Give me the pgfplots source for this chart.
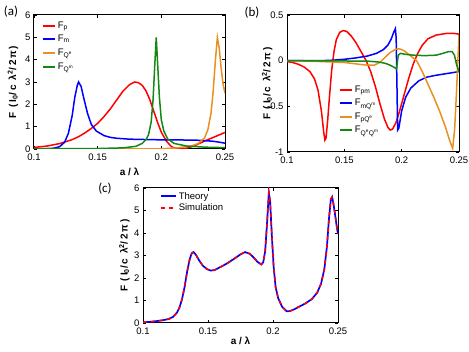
\documentclass[border=0pt]{standalone}
\usepackage{fontspec}
\setmainfont{Liberation Sans}
\newfontfamily\labfont[LetterSpace=18]{Liberation Sans}
\newfontfamily\panelfont{Carlito}
\usepackage{pgfplots}
\usepackage{pgfplotstable}
\pgfplotsset{compat=1.18}

\definecolor{mred}{RGB}{255,0,0}
\definecolor{mblue}{RGB}{0,0,255}
\definecolor{morange}{RGB}{232,145,32}
\definecolor{mgreen}{RGB}{20,135,20}

\newcommand{\Flab}{{\labfont\bfseries F (I\textsubscript{0}/c λ\textsuperscript{2}/2π)}}
\newcommand{\Xlab}{{\bfseries a / λ}}

\pgfplotsset{
  panel/.style={
    scale only axis,
    xmin=0.1, xmax=0.25,
    xtick={0.1,0.15,0.2,0.25},
    xticklabels={0.1,0.15,0.2,0.25},
    tick align=inside,
    major tick length=3pt,
    every tick/.style={black, line width=0.7pt},
    axis line style={black, line width=1pt},
    tick label style={font=\fontsize{9.5}{10}\selectfont},
    xticklabel style={yshift=-1pt},
    label style={font=\fontsize{10}{12}\selectfont},
    legend style={draw=none, fill=none, inner sep=0pt,
      font=\fontsize{9.5}{10}\selectfont, anchor=north west},
    legend cell align=left,
    every axis plot/.append style={line width=1.5pt},
  }
}

% panel (c): total force, theory and simulation
\pgfplotstableread{
x y
0.1 0.03
0.105 0.05
0.11 0.08
0.115 0.12
0.12 0.18
0.123 0.27
0.126 0.45
0.128 0.68
0.13 1.05
0.132 1.6
0.134 2.3
0.136 2.85
0.1375 3.1
0.1388 3.15
0.1405 3.05
0.143 2.8
0.146 2.55
0.149 2.4
0.152 2.33
0.155 2.35
0.16 2.5
0.165 2.66
0.17 2.85
0.175 3.05
0.1785 3.15
0.182 3.08
0.185 2.92
0.188 2.72
0.191 2.6
0.1925 2.7
0.194 3.2
0.1955 4.5
0.1968 5.8
0.1978 5.4
0.199 4.0
0.2005 2.5
0.202 1.6
0.204 1.1
0.207 0.72
0.2105 0.52
0.213 0.53
0.216 0.6
0.22 0.72
0.225 0.87
0.23 1.07
0.234 1.35
0.237 1.75
0.2395 2.4
0.2415 3.4
0.243 4.6
0.2445 5.5
0.2455 5.6
0.2465 5.3
0.2478 4.8
0.249 4.3
0.25 3.95
}\tabC

\begin{document}
\begin{tikzpicture}[x=1pt,y=1pt]
\useasboundingbox (0,0) rectangle (469,352);

% ---------------- (a)
\begin{axis}[panel,
  at={(34pt,203pt)}, anchor=south west,
  width=191pt, height=134pt,
  ymin=0, ymax=6, ytick={0,1,2,3,4,5,6},
  yticklabels={0,1,2,3,4,5,6},
  xlabel={\Xlab}, ylabel={\Flab},
  xlabel style={at={(axis description cs:0.5,-0.17)}, anchor=center},
  ylabel style={at={(axis description cs:-0.11,0.5)}, anchor=center},
  legend style={at={(axis description cs:0.04,0.965)}, row sep=1.5pt},
  legend image code/.code={\draw[#1, line width=2pt] (0pt,0pt) -- (12pt,0pt);},
]
\addplot[mred] coordinates {
 (0.1,0.07)(0.11,0.13)(0.12,0.24)(0.13,0.42)(0.135,0.55)(0.14,0.72)(0.145,0.92)
 (0.15,1.15)(0.155,1.45)(0.16,1.8)(0.165,2.2)(0.17,2.6)(0.175,2.88)(0.179,3.0)
 (0.182,2.97)(0.185,2.85)(0.188,2.6)(0.191,2.2)(0.194,1.7)(0.197,1.2)(0.2,0.75)
 (0.204,0.35)(0.208,0.1)(0.212,0.01)(0.215,0.0)(0.22,0.04)(0.225,0.12)(0.23,0.25)
 (0.235,0.38)(0.24,0.5)(0.245,0.62)(0.25,0.74)};
\addlegendentry{F\textsubscript{p}}
\addplot[mblue] coordinates {
 (0.1,0.0)(0.11,0.01)(0.115,0.03)(0.12,0.1)(0.124,0.3)(0.127,0.7)(0.13,1.5)
 (0.132,2.3)(0.134,2.85)(0.135,3.0)(0.137,2.8)(0.139,2.3)(0.142,1.6)(0.145,1.1)
 (0.149,0.8)(0.155,0.6)(0.16,0.52)(0.165,0.48)(0.175,0.44)(0.19,0.42)(0.2,0.41)
 (0.21,0.41)(0.22,0.40)(0.23,0.39)(0.24,0.35)(0.245,0.31)(0.25,0.26)};
\addlegendentry{F\textsubscript{m}}
\addplot[morange] coordinates {
 (0.1,0.0)(0.2,0.01)(0.21,0.04)(0.214,0.06)(0.224,0.14)(0.229,0.25)(0.234,0.5)
 (0.2365,0.85)(0.239,1.6)(0.2406,2.5)(0.2425,4.0)(0.244,5.0)(0.2455,4.5)
 (0.247,3.6)(0.2485,2.9)(0.25,2.5)};
\addlegendentry{F\textsubscript{Q\textsuperscript{e}}}
\addplot[mgreen] coordinates {
 (0.1,0.01)(0.15,0.02)(0.17,0.05)(0.18,0.12)(0.185,0.25)(0.188,0.42)(0.19,0.65)
 (0.192,1.2)(0.1935,2.2)(0.1948,3.7)(0.196,5.0)(0.1972,3.7)(0.1985,2.3)(0.2,1.3)
 (0.202,0.8)(0.205,0.45)(0.21,0.25)(0.22,0.13)(0.235,0.08)(0.25,0.06)};
\addlegendentry{F\textsubscript{Q\textsuperscript{m}}}
\end{axis}

% ---------------- (b)
\begin{axis}[panel,
  at={(287pt,200pt)}, anchor=south west,
  width=172pt, height=137pt,
  ymin=-1, ymax=0.5, ytick={-1,-0.5,0,0.5},
  yticklabels={-1,-0.5,0,0.5},
  ylabel={\Flab},
  ylabel style={at={(axis description cs:-0.115,0.5)}, anchor=center},
  legend style={at={(axis description cs:0.3,0.5)}, row sep=1.5pt},
  legend image code/.code={\draw[#1, line width=2pt] (0pt,0pt) -- (12pt,0pt);},
]
\addplot[mred] coordinates {
 (0.1,-0.01)(0.105,-0.02)(0.11,-0.04)(0.115,-0.07)(0.12,-0.12)(0.124,-0.2)
 (0.127,-0.32)(0.13,-0.55)(0.132,-0.78)(0.133,-0.87)(0.134,-0.85)(0.1355,-0.65)
 (0.137,-0.4)(0.139,-0.1)(0.141,0.1)(0.143,0.23)(0.146,0.31)(0.149,0.33)
 (0.152,0.32)(0.156,0.27)(0.16,0.2)(0.165,0.09)(0.169,0.0)(0.173,-0.12)
 (0.177,-0.28)(0.181,-0.47)(0.185,-0.64)(0.188,-0.73)(0.19,-0.76)(0.192,-0.75)
 (0.195,-0.68)(0.198,-0.56)(0.202,-0.38)(0.206,-0.2)(0.21,-0.04)(0.214,0.08)
 (0.218,0.17)(0.223,0.24)(0.23,0.28)(0.24,0.3)(0.245,0.3)(0.25,0.29)};
\addlegendentry{F\textsubscript{pm}}
\addplot[mblue] coordinates {
 (0.1,0.0)(0.13,0.0)(0.14,0.005)(0.15,0.015)(0.16,0.03)(0.17,0.05)(0.178,0.08)
 (0.184,0.12)(0.188,0.17)(0.191,0.24)(0.193,0.31)(0.1945,0.35)(0.1952,0.25)
 (0.1958,-0.2)(0.1965,-0.76)(0.1975,-0.74)(0.2,-0.55)(0.2035,-0.4)(0.208,-0.3)
 (0.215,-0.22)(0.222,-0.18)(0.23,-0.16)(0.24,-0.14)(0.25,-0.12)};
\addlegendentry{F\textsubscript{mQ\textsuperscript{m}}}
\addplot[morange] coordinates {
 (0.1,0.0)(0.13,-0.01)(0.15,-0.02)(0.16,-0.035)(0.17,-0.05)(0.176,-0.05)
 (0.181,-0.02)(0.185,0.03)(0.19,0.09)(0.195,0.125)(0.198,0.13)(0.202,0.11)
 (0.206,0.07)(0.21,0.03)(0.213,0.0)(0.218,-0.12)(0.223,-0.26)(0.228,-0.4)
 (0.233,-0.55)(0.238,-0.72)(0.242,-0.88)(0.2445,-0.96)(0.2462,-0.75)
 (0.2478,-0.35)(0.249,0.0)(0.25,0.28)};
\addlegendentry{F\textsubscript{pQ\textsuperscript{e}}}
\addplot[mgreen] coordinates {
 (0.1,0.0)(0.17,-0.005)(0.18,-0.015)(0.186,-0.03)(0.19,-0.05)(0.193,-0.07)
 (0.1955,-0.09)(0.1962,-0.02)(0.197,0.06)(0.199,0.08)(0.203,0.07)(0.21,0.06)
 (0.22,0.055)(0.23,0.06)(0.236,0.08)(0.241,0.1)(0.244,0.1)(0.246,0.06)
 (0.248,-0.05)(0.25,-0.12)};
\addlegendentry{F\textsubscript{Q\textsuperscript{e}Q\textsuperscript{m}}}
\end{axis}

% ---------------- (c)
\begin{axis}[panel,
  at={(143pt,29pt)}, anchor=south west,
  width=195pt, height=135pt,
  ymin=0, ymax=6, ytick={0,1,2,3,4,5,6},
  yticklabels={0,1,2,3,4,5,6},
  xlabel={\Xlab}, ylabel={\Flab},
  xlabel style={at={(axis description cs:0.5,-0.13)}, anchor=center},
  ylabel style={at={(axis description cs:-0.095,0.5)}, anchor=center},
  legend style={at={(axis description cs:0.085,0.985)}, row sep=-1pt},
  legend image code/.code={\draw[#1, line width=2pt] (0pt,0pt) -- (15pt,0pt);},
]
\addplot[mblue, line width=1.7pt] table[x=x,y=y] {\tabC};
\addlegendentry{Theory}
\addplot[mred, line width=1.5pt, dash pattern=on 4pt off 4pt] table[x=x,y=y] {\tabC};
\addlegendentry{Simulation}
\end{axis}

\node[font=\panelfont\fontsize{13}{15}\selectfont] at (11,340) {(a)};
\node[font=\panelfont\fontsize{13}{15}\selectfont] at (252,339) {(b)};
\node[font=\panelfont\fontsize{13}{15}\selectfont] at (105,163) {(c)};
\end{tikzpicture}
\end{document}
